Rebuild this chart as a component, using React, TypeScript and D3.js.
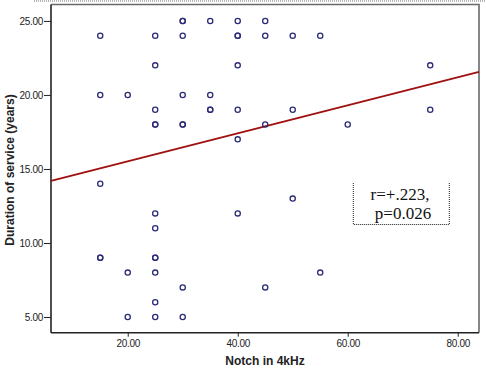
import React, { useRef, useEffect } from 'react';
import * as d3 from 'd3';

// notch depth at 4kHz (x) vs years of service (y)
const notchValues = [
  15, 15, 15, 15, 15,
  20, 20, 20,
  25, 25, 25, 25, 25, 25, 25, 25, 25, 25, 25, 25,
  30, 30, 30, 30, 30, 30, 30, 30,
  35, 35, 35, 35,
  40, 40, 40, 40, 40, 40, 40,
  45, 45, 45, 45,
  50, 50, 50,
  55, 55,
  60,
  75, 75,
];
const serviceValues = [
  24, 20, 14, 9, 9,
  20, 8, 5,
  24, 22, 19, 18, 12, 11, 9, 9, 8, 6, 5, 18,
  25, 25, 24, 20, 18, 18, 7, 5,
  25, 20, 19, 19,
  25, 24, 24, 22, 19, 17, 12,
  25, 24, 18, 7,
  24, 19, 13,
  24, 8,
  18,
  22, 19,
];

const xTicks = [20, 40, 60, 80];
const yTicks = [5, 10, 15, 20, 25];

// fit line
const fitIntercept = 13.62;
const fitSlope = 0.0947;

const statLines = ['r=+.223,', 'p=0.026'];

const ScatterChart = () => {
  const svgRef = useRef<SVGSVGElement>(null);

  useEffect(() => {
    const svg = d3.select(svgRef.current);
    svg.selectAll('*').remove();

    const left = 51, right = 479, top = 4.5, bottom = 332.7;

    const x = d3.scaleLinear().domain([6.05, 83.87]).range([left, right]);
    const y = d3.scaleLinear().domain([3.94, 26.11]).range([bottom, top]);

    // dotted line along the top
    svg.append('line')
      .attr('x1', 34).attr('x2', 486).attr('y1', 1).attr('y2', 1)
      .attr('stroke', '#666').attr('stroke-width', 1)
      .attr('stroke-dasharray', '1,1');

    // frame: top and right gray
    svg.append('path')
      .attr('d', `M${left},${top}H${right}V${bottom}`)
      .attr('fill', 'none')
      .attr('stroke', '#6a6a6a')
      .attr('stroke-width', 1.6);

    // axes
    const yAxis = svg.append('g')
      .attr('transform', `translate(${left},0)`)
      .call(d3.axisLeft(y).tickValues(yTicks).tickSize(7).tickPadding(1).tickFormat(d3.format('.2f')) as any);
    const xAxis = svg.append('g')
      .attr('transform', `translate(0,${bottom})`)
      .call(d3.axisBottom(x).tickValues(xTicks).tickSize(4).tickPadding(3).tickFormat(d3.format('.2f')) as any);

    [yAxis, xAxis].forEach(g => {
      g.select('.domain').attr('stroke', '#222').attr('stroke-width', 1.6);
      g.selectAll('.tick line').attr('stroke', '#222').attr('stroke-width', 1);
      g.selectAll('.tick text')
        .attr('fill', '#222')
        .style('font-family', 'Liberation Sans, Arial, sans-serif')
        .style('font-size', '10px')
        .style('letter-spacing', '-0.3px');
    });
    xAxis.select('.domain').attr('d', `M${left},0H${right}`);
    yAxis.select('.domain').attr('d', `M0,${top}V${bottom}`);

    // fit line
    const [x0, x1] = x.domain();
    svg.append('line')
      .attr('x1', x(x0)).attr('y1', y(fitIntercept + fitSlope * x0))
      .attr('x2', x(x1)).attr('y2', y(fitIntercept + fitSlope * x1))
      .attr('stroke', '#a01010')
      .attr('stroke-width', 1.8);

    // points
    svg.append('g')
      .selectAll('circle')
      .data(notchValues.map((v, i) => [v, serviceValues[i]]))
      .join('circle')
      .attr('cx', d => x(d[0]))
      .attr('cy', d => y(d[1]))
      .attr('r', 2.6)
      .attr('fill', 'none')
      .attr('stroke', '#2b2b78')
      .attr('stroke-width', 1.3);

    // r / p annotation box
    const bx0 = 353.3, bx1 = 449.3, by0 = 183, by1 = 224.5;
    svg.append('path')
      .attr('d', `M${bx0},${by0}V${by1}H${bx1}V${by0}`)
      .attr('fill', 'none')
      .attr('stroke', '#222')
      .attr('stroke-width', 1)
      .attr('stroke-dasharray', '1,1');

    svg.append('g')
      .selectAll('text')
      .data(statLines)
      .join('text')
      .attr('x', (d, i) => i === 0 ? 400 : 403)
      .attr('y', (d, i) => 200 + i * 18.5)
      .attr('text-anchor', 'middle')
      .style('font-family', 'Liberation Serif, Times New Roman, serif')
      .style('font-size', '17px')
      .attr('fill', '#111')
      .text(d => d);

    // axis titles
    svg.append('text')
      .attr('x', 265).attr('y', 365)
      .attr('text-anchor', 'middle')
      .style('font-family', 'Liberation Sans, Arial, sans-serif')
      .style('font-size', '12px')
      .style('font-weight', 'bold')
      .attr('fill', '#222')
      .text('Notch in 4kHz');

    svg.append('text')
      .attr('transform', 'translate(14,170) rotate(-90)')
      .attr('text-anchor', 'middle')
      .style('font-family', 'Liberation Sans, Arial, sans-serif')
      .style('font-size', '12px')
      .style('font-weight', 'bold')
      .attr('fill', '#222')
      .text('Duration of service (years)');
  }, []);

  return (
    <svg ref={svgRef} width="486" height="373"
      style={{ position: 'absolute', left: 0, top: 0, background: '#fff' }} />
  );
};

export default function App() {
  return <ScatterChart />;
}
